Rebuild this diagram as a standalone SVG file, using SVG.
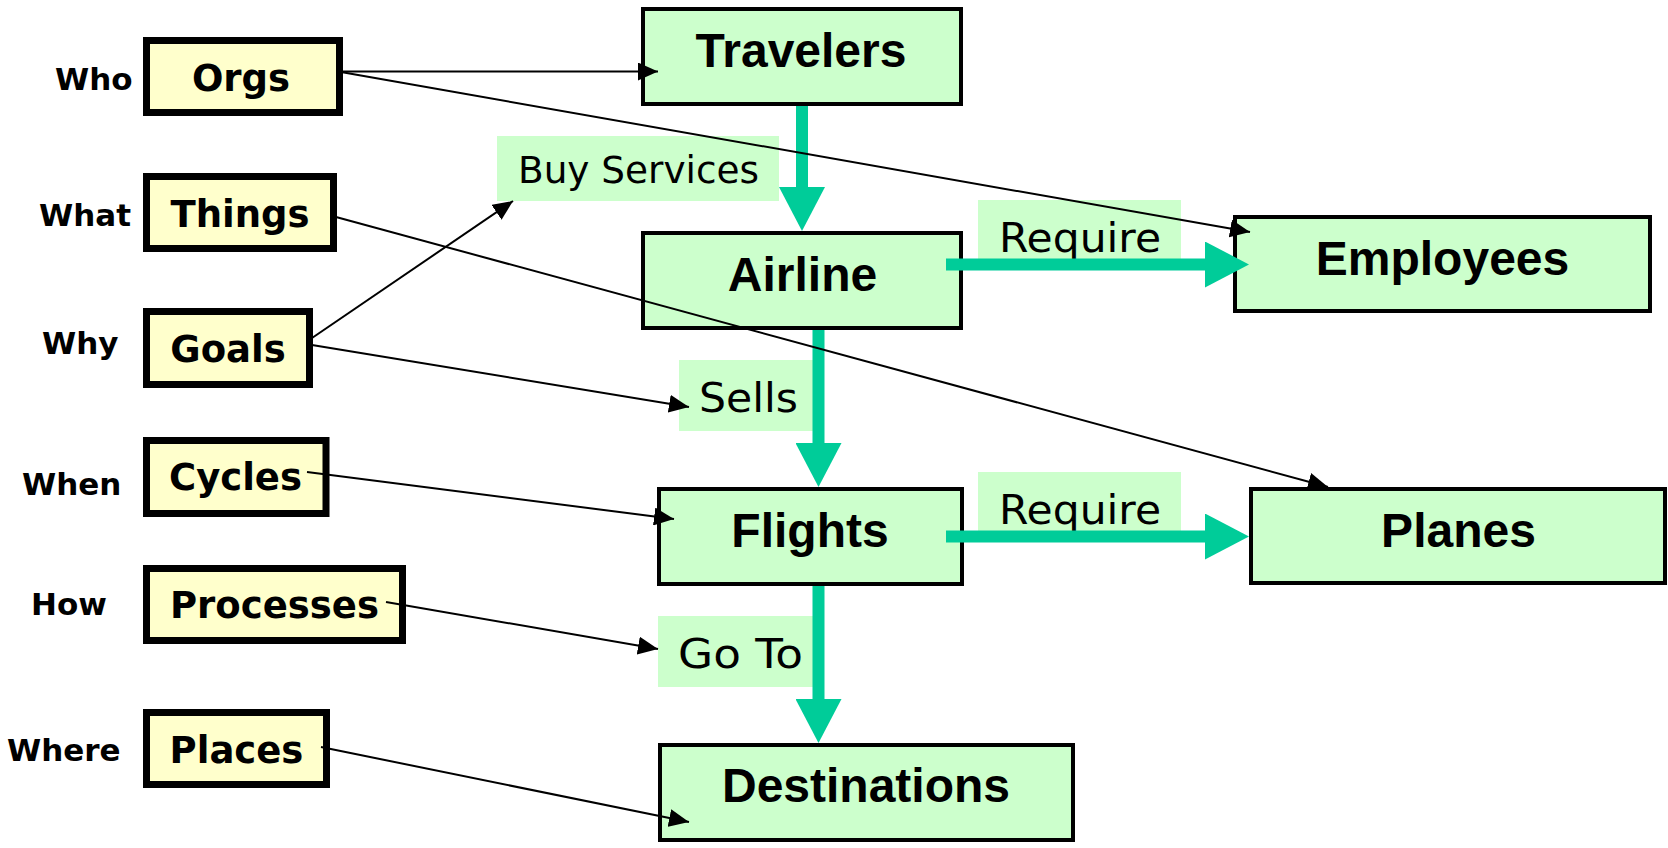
<svg xmlns="http://www.w3.org/2000/svg" width="1668" height="848" viewBox="0 0 1668 848">
<style>
.y{fill:#FFFFCC;stroke:#000;stroke-width:7}
.g{fill:#CCFFCC;stroke:#000;stroke-width:4}
.lb{fill:#CCFFCC}
.yt{font-family:"DejaVu Sans",Verdana,sans-serif;font-weight:bold;font-size:37px;text-anchor:middle;fill:#000}
.q{font-family:"DejaVu Sans",Verdana,sans-serif;font-weight:bold;font-size:31px;fill:#000}
.gt{font-family:"Liberation Sans",Arial,sans-serif;font-weight:bold;font-size:48px;text-anchor:middle;fill:#000}
.et{font-family:"DejaVu Sans",Verdana,sans-serif;font-size:41px;fill:#000}
.bl{stroke:#000;stroke-width:2;fill:none;marker-end:url(#ah)}
.gr{stroke:#00CC99;stroke-width:12;fill:none;marker-end:url(#gh)}
</style>
<defs>
<marker id="ah" markerUnits="userSpaceOnUse" markerWidth="20" markerHeight="18" viewBox="0 0 20 18" refX="20" refY="9" orient="auto"><path d="M0,0 L20,9 L0,18 z" fill="#000"/></marker>
<marker id="gh" markerUnits="userSpaceOnUse" markerWidth="44" markerHeight="46" viewBox="0 0 44 46" refX="0" refY="23" orient="auto"><path d="M0,0 L44,23 L0,46 z" fill="#00CC99"/></marker>
</defs>
<rect width="1668" height="848" fill="#fff"/>
<g id="labels">
<text class="q" x="55" y="90">Who</text>
<text class="q" x="39" y="226">What</text>
<text class="q" x="42" y="354">Why</text>
<text class="q" x="22" y="495">When</text>
<text class="q" x="31" y="615">How</text>
<text class="q" x="7" y="761">Where</text>
</g>
<g id="orgs"><rect class="y" x="146.5" y="40.5" width="193" height="72"/><text class="yt" x="241" y="91">Orgs</text></g>
<g id="things"><rect class="y" x="146.5" y="176.5" width="187" height="72"/><text class="yt" x="240" y="227">Things</text></g>
<g id="goals"><rect class="y" x="146.5" y="311.5" width="163" height="73"/><text class="yt" x="228" y="362">Goals</text></g>
<g id="cycles"><rect class="y" x="146.5" y="440.5" width="179.5" height="73"/><text class="yt" x="235.5" y="490">Cycles</text></g>
<g id="processes"><rect class="y" x="146.5" y="568.5" width="256" height="72"/><text class="yt" x="274.5" y="618">Processes</text></g>
<g id="places"><rect class="y" x="146.5" y="712.5" width="180" height="72"/><text class="yt" x="236.5" y="763">Places</text></g>
<g id="label-buy"><rect class="lb" x="497" y="136" width="282" height="65"/><text class="et" x="518" y="183" style="font-size:37px" textLength="241" lengthAdjust="spacingAndGlyphs">Buy Services</text></g>
<g id="label-require1"><rect class="lb" x="978" y="200" width="203" height="66"/><text class="et" x="999" y="252" textLength="162" lengthAdjust="spacingAndGlyphs">Require</text></g>
<g id="label-sells"><rect class="lb" x="679" y="360" width="135" height="71"/><text class="et" x="699" y="412" textLength="99" lengthAdjust="spacingAndGlyphs">Sells</text></g>
<g id="label-require2"><rect class="lb" x="978" y="472" width="203" height="65"/><text class="et" x="999" y="524" textLength="162" lengthAdjust="spacingAndGlyphs">Require</text></g>
<g id="label-goto"><rect class="lb" x="658" y="616" width="155" height="71"/><text class="et" x="678" y="668" textLength="125" lengthAdjust="spacingAndGlyphs">Go To</text></g>
<g id="travelers"><rect class="g" x="643" y="9" width="318" height="95"/><text class="gt" x="801" y="67">Travelers</text></g>
<g id="airline"><rect class="g" x="643" y="233" width="318" height="95"/><text class="gt" x="802.5" y="291">Airline</text></g>
<g id="employees"><rect class="g" x="1235" y="217" width="415" height="94"/><text class="gt" x="1442.5" y="275">Employees</text></g>
<g id="flights"><rect class="g" x="659" y="489" width="303" height="95"/><text class="gt" x="810" y="547">Flights</text></g>
<g id="planes"><rect class="g" x="1251" y="489" width="414" height="94"/><text class="gt" x="1458.5" y="547">Planes</text></g>
<g id="destinations"><rect class="g" x="660" y="745" width="413" height="95"/><text class="gt" x="866" y="802">Destinations</text></g>
<g id="connectors">
<line class="gr" x1="802" y1="106" x2="802" y2="187"/>
<line class="gr" x1="818.5" y1="330" x2="818.5" y2="443"/>
<line class="gr" x1="818.5" y1="586" x2="818.5" y2="699"/>
<line class="gr" x1="946" y1="264.5" x2="1205" y2="264.5"/>
<line class="gr" x1="946" y1="536.5" x2="1205" y2="536.5"/>
<line class="bl" x1="341" y1="71.5" x2="658" y2="71.5"/>
<line class="bl" x1="341" y1="72" x2="1250" y2="232"/>
<line class="bl" x1="336" y1="217" x2="1328" y2="487"/>
<line class="bl" x1="312" y1="338" x2="513" y2="201"/>
<line class="bl" x1="312" y1="345" x2="689" y2="407"/>
<line class="bl" x1="307" y1="472" x2="674" y2="519"/>
<line class="bl" x1="386" y1="602" x2="658" y2="649"/>
<line class="bl" x1="321" y1="747" x2="689" y2="822"/>
</g>
</svg>
